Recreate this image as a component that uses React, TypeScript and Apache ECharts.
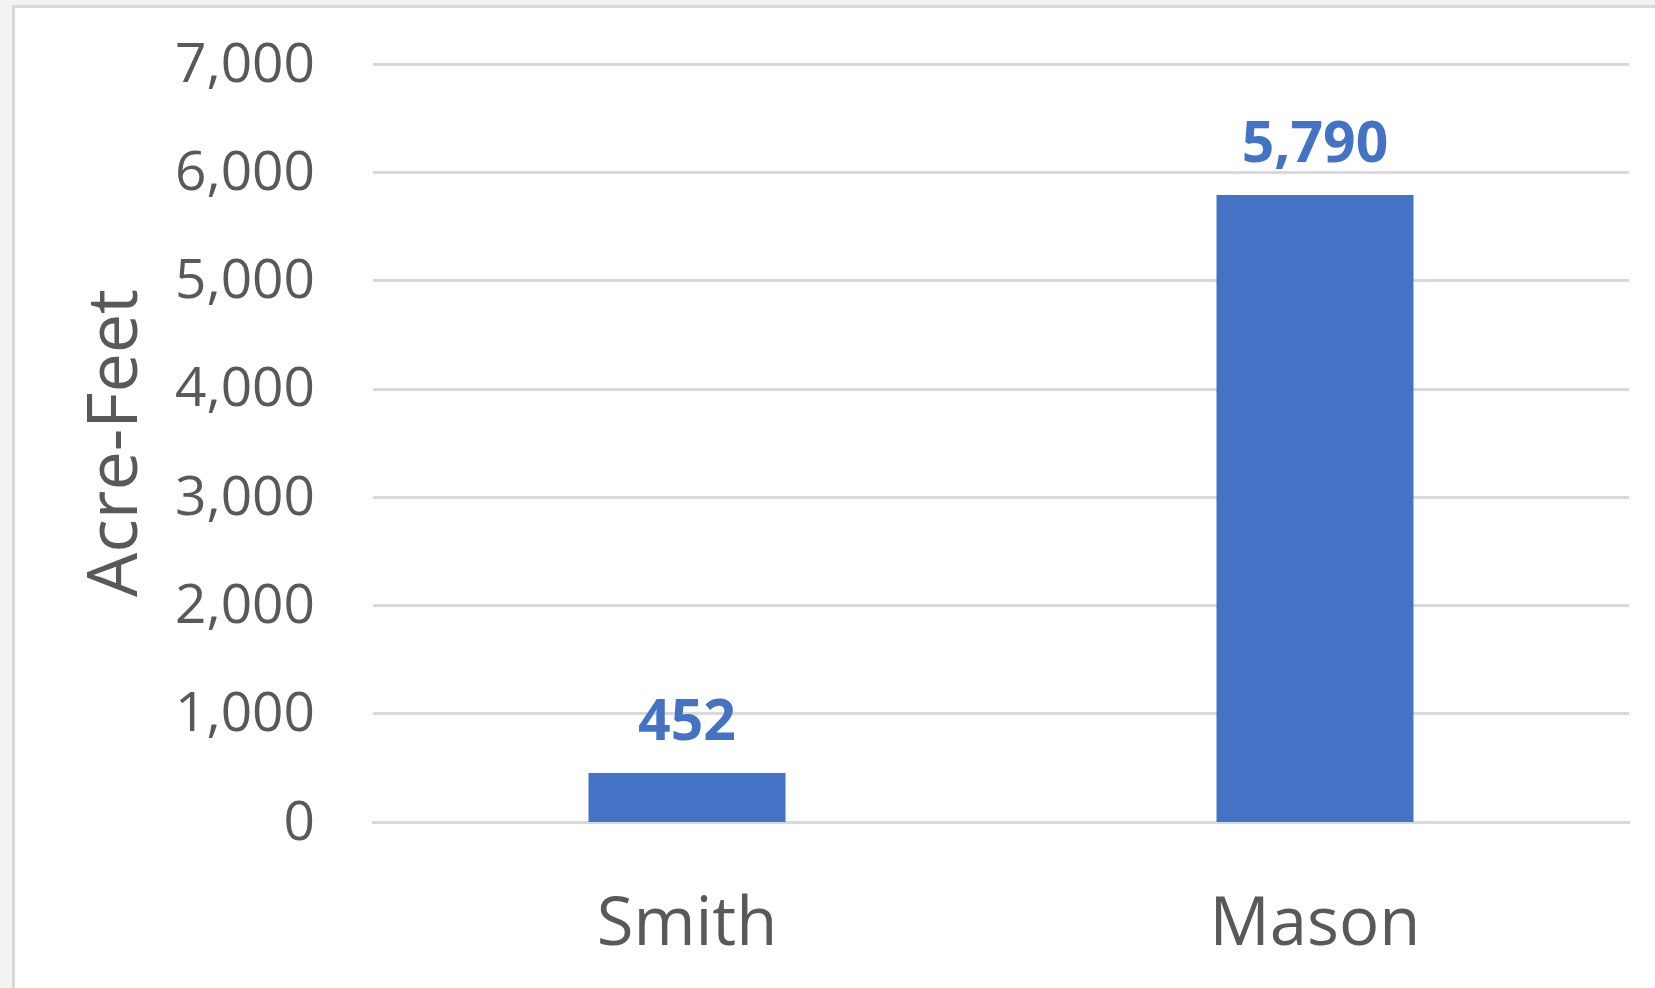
import React, { useEffect, useRef } from "react";
import * as echarts from "echarts";

const categories = ["Smith", "Mason"];
const acreFeet = [452, 5790];
const yTicks = [0, 1000, 2000, 3000, 4000, 5000, 6000, 7000];
const axisTitle = "Acre-Feet";

const fmt = (v: number) => v.toLocaleString("en-US");

export default function App() {
  const ref = useRef<HTMLDivElement>(null);
  useEffect(() => {
    document.body.style.margin = "0";
    if (!ref.current) return;
    const chart = echarts.init(ref.current, undefined, { renderer: "svg" });
    chart.setOption({
      animation: false,
      backgroundColor: "transparent",
      grid: { left: 373, right: 26, top: 64, bottom: 166, containLabel: false },
      xAxis: {
        type: "category",
        data: categories,
        axisLine: { show: true, lineStyle: { color: "#d9d9d9", width: 3 } },
        axisTick: { show: false },
        axisLabel: {
          color: "#595959",
          fontSize: 67,
          fontFamily: "Open Sans",
          margin: 63,
        },
      },
      yAxis: {
        type: "value",
        min: yTicks[0],
        max: yTicks[yTicks.length - 1],
        interval: 1000,
        name: axisTitle,
        nameLocation: "middle",
        nameRotate: 90,
        nameGap: 228,
        nameTextStyle: { color: "#595959", fontSize: 70, fontFamily: "Open Sans" },
        axisLine: { show: false },
        axisTick: { show: false },
        axisLabel: {
          color: "#595959",
          fontSize: 55,
          fontFamily: "Open Sans",
          margin: 58,
          verticalAlign: "bottom",
          lineHeight: 8,
          formatter: (v: number) => fmt(v),
        },
        splitLine: { lineStyle: { color: "#d9d9d9", width: 3 } },
      },
      series: [
        {
          type: "bar",
          data: acreFeet,
          barWidth: 197,
          itemStyle: { color: "#4472C4" },
          label: {
            show: true,
            position: "top",
            distance: 27,
            color: "#4472C4",
            fontWeight: "bold",
            fontSize: 57,
            fontFamily: "Open Sans",
            formatter: (p: any) => fmt(p.value),
          },
        },
      ],
    });
    return () => chart.dispose();
  }, []);

  return (
    <div
      style={{
        position: "fixed",
        left: 0,
        top: 0,
        width: 1655,
        height: 988,
        background: "#f2f2f2",
        overflow: "hidden",
      }}
    >
      <div
        style={{
          position: "absolute",
          left: 12,
          top: 5,
          width: 1700,
          height: 1100,
          background: "#ffffff",
          borderLeft: "3px solid #d9d9d9",
          borderTop: "3px solid #d9d9d9",
        }}
      />
      <div
        ref={ref}
        style={{ position: "absolute", left: 0, top: 0, width: 1655, height: 988 }}
      />
    </div>
  );
}
